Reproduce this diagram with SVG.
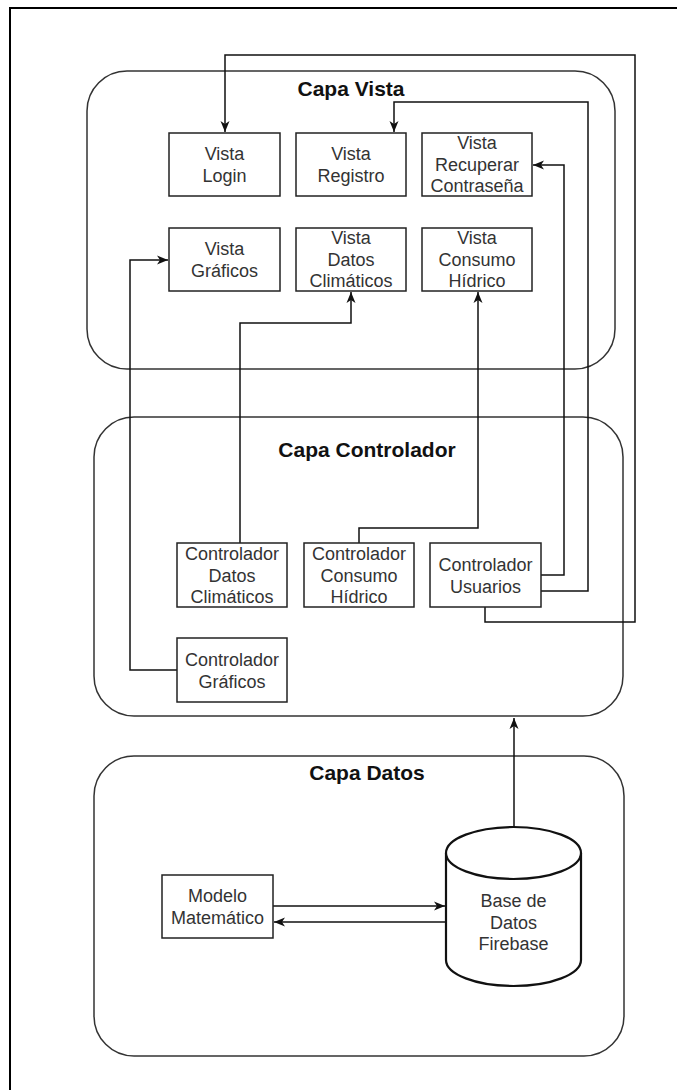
<svg xmlns="http://www.w3.org/2000/svg" width="677" height="1090" viewBox="0 0 677 1090">
<style>
.frame{fill:none;stroke:#000;stroke-width:2}
.layer{fill:#fff;stroke:#333;stroke-width:1.5}
.box{fill:#fff;stroke:#222;stroke-width:1.5}
.cyl{fill:#fff;stroke:#111;stroke-width:2.2}
.conn{fill:none;stroke:#111;stroke-width:1.5}
.t{font-family:"Liberation Sans",Arial,sans-serif;font-size:18px;fill:#333;text-anchor:middle}
.title{font-family:"Liberation Sans",Arial,sans-serif;font-size:21px;font-weight:bold;fill:#111;text-anchor:middle}
</style>
<defs>
<marker id="arr" markerUnits="userSpaceOnUse" markerWidth="12" markerHeight="10" refX="11" refY="5" orient="auto">
<path d="M0,0.5 L11,5 L0,9.5 L3,5 Z" fill="#111"/>
</marker>
</defs>
<rect width="677" height="1090" fill="#fff"/>
<rect class="frame" x="10" y="8" width="700" height="1110"/>

<g id="capa-vista">
<rect class="layer" x="87" y="71" width="528" height="298" rx="40" ry="40"/>
<text class="title" x="351" y="96">Capa Vista</text>
</g>
<g id="capa-controlador">
<rect class="layer" x="94" y="417" width="529" height="299" rx="40" ry="40"/>
<text class="title" x="367" y="457">Capa Controlador</text>
</g>
<g id="capa-datos">
<rect class="layer" x="94" y="756" width="530" height="300" rx="40" ry="40"/>
<text class="title" x="367" y="780">Capa Datos</text>
</g>

<g id="connectors">
<path class="conn" d="M177,670 H130 V260 H168" marker-end="url(#arr)"/>
<path class="conn" d="M240,543 V323 H351 V292" marker-end="url(#arr)"/>
<path class="conn" d="M359,543 V528 H478 V292" marker-end="url(#arr)"/>
<path class="conn" d="M541,575 H564 V165 H533" marker-end="url(#arr)"/>
<path class="conn" d="M541,591 H588 V102 H394 V132" marker-end="url(#arr)"/>
<path class="conn" d="M485,607 V622 H635 V55 H225 V132" marker-end="url(#arr)"/>
<path class="conn" d="M514,827 V718" marker-end="url(#arr)"/>
<path class="conn" d="M273,906 H445" marker-end="url(#arr)"/>
<path class="conn" d="M446,922 H274" marker-end="url(#arr)"/>
</g>

<g id="vista-login">
<rect class="box" x="169" y="133" width="111" height="63"/>
<text class="t" x="224.5" y="160">Vista</text>
<text class="t" x="224.5" y="182">Login</text>
</g>
<g id="vista-registro">
<rect class="box" x="296" y="133" width="110" height="63"/>
<text class="t" x="351" y="160">Vista</text>
<text class="t" x="351" y="182">Registro</text>
</g>
<g id="vista-recuperar">
<rect class="box" x="422" y="133" width="110" height="63"/>
<text class="t" x="477" y="149">Vista</text>
<text class="t" x="477" y="171">Recuperar</text>
<text class="t" x="477" y="192">Contraseña</text>
</g>
<g id="vista-graficos">
<rect class="box" x="169" y="228" width="111" height="63"/>
<text class="t" x="224.5" y="255">Vista</text>
<text class="t" x="224.5" y="277">Gráficos</text>
</g>
<g id="vista-datos">
<rect class="box" x="296" y="228" width="110" height="63"/>
<text class="t" x="351" y="244">Vista</text>
<text class="t" x="351" y="266">Datos</text>
<text class="t" x="351" y="287">Climáticos</text>
</g>
<g id="vista-consumo">
<rect class="box" x="422" y="228" width="110" height="63"/>
<text class="t" x="477" y="244">Vista</text>
<text class="t" x="477" y="266">Consumo</text>
<text class="t" x="477" y="287">Hídrico</text>
</g>

<g id="ctrl-datos">
<rect class="box" x="177" y="543" width="110" height="64"/>
<text class="t" x="232" y="560">Controlador</text>
<text class="t" x="232" y="582">Datos</text>
<text class="t" x="232" y="603">Climáticos</text>
</g>
<g id="ctrl-consumo">
<rect class="box" x="304" y="543" width="110" height="64"/>
<text class="t" x="359" y="560">Controlador</text>
<text class="t" x="359" y="582">Consumo</text>
<text class="t" x="359" y="603">Hídrico</text>
</g>
<g id="ctrl-usuarios">
<rect class="box" x="430" y="543" width="111" height="64"/>
<text class="t" x="485.5" y="571">Controlador</text>
<text class="t" x="485.5" y="593">Usuarios</text>
</g>
<g id="ctrl-graficos">
<rect class="box" x="177" y="638" width="110" height="64"/>
<text class="t" x="232" y="666">Controlador</text>
<text class="t" x="232" y="688">Gráficos</text>
</g>

<g id="modelo">
<rect class="box" x="162" y="875" width="111" height="63"/>
<text class="t" x="217.5" y="902">Modelo</text>
<text class="t" x="217.5" y="924">Matemático</text>
</g>
<g id="firebase">
<path class="cyl" d="M446,853 A67.5,26 0 0 1 581,853 L581,960 A67.5,26 0 0 1 446,960 Z"/>
<path class="cyl" d="M446,853 A67.5,26 0 0 0 581,853"/>
<text class="t" x="513.5" y="907">Base de</text>
<text class="t" x="513.5" y="929">Datos</text>
<text class="t" x="513.5" y="950">Firebase</text>
</g>
</svg>
